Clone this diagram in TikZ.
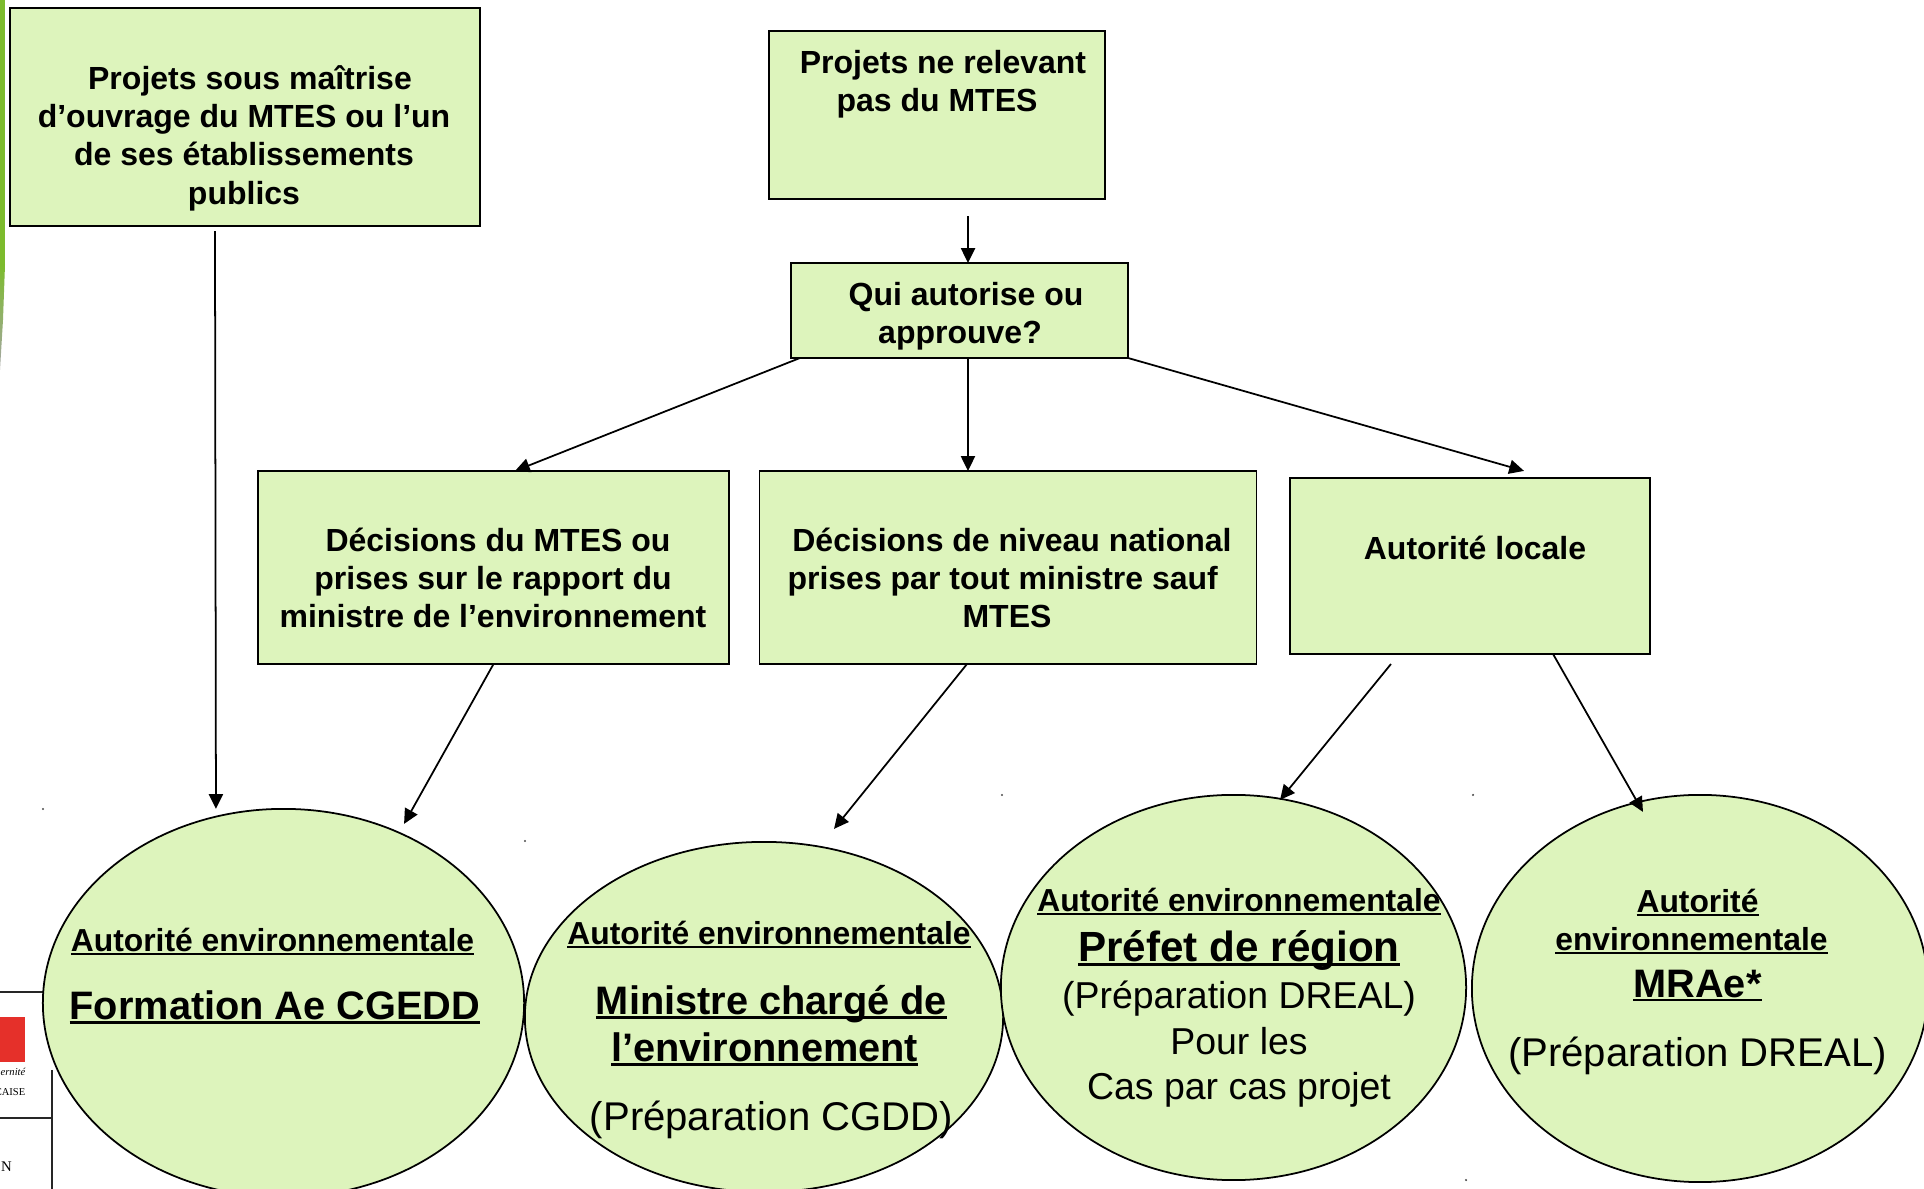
\documentclass[tikz,border=0pt]{standalone}
\usepackage{fontspec}
\setmainfont{Liberation Sans}
\newfontfamily\logofont{Liberation Serif}
\usetikzlibrary{arrows.meta,shapes.geometric}
\definecolor{boxgreen}{RGB}{221,244,188}
\definecolor{bargreen}{RGB}{124,187,45}
\definecolor{logored}{RGB}{229,48,42}
\newcommand{\ulbox}[1]{\setbox0\hbox{#1}\rlap{\rule[-0.11em]{\wd0}{0.07em}}\box0}
\newcommand{\fsB}{\fontsize{9.1}{10.9}\selectfont\bfseries}
\newcommand{\fsA}{\fontsize{9.05}{10.8}\selectfont\bfseries}
\newcommand{\fsT}{\fontsize{11.3}{10.8}\selectfont\bfseries}
\newcommand{\fsP}{\fontsize{12}{10.8}\selectfont\bfseries}
\newcommand{\fsR}{\fontsize{11.4}{10.8}\selectfont\mdseries}
\newcommand{\fsQ}{\fontsize{10.65}{10.8}\selectfont\mdseries}
\newcommand{\gap}[1]{\\[\dimexpr #1cm*1/100-10.8pt\relax]}
\tikzset{
  boxn/.style={draw=black,line width=0.5pt,fill=boxgreen,rectangle,inner sep=0pt,outer sep=0pt},
  elln/.style={draw=black,line width=0.5pt,fill=boxgreen,ellipse,inner sep=0pt,outer sep=0pt},
  boxt/.style={align=center,inner sep=0pt,font=\fsB},
  ellt/.style={align=center,inner sep=0pt},
  arr/.style={draw=black,line width=0.5pt,-{Triangle[length=4.2pt,width=4pt]}},
  logoline/.style={draw=black!85,line width=0.35pt},
  speck/.style={fill=black!70,circle,inner sep=0pt,minimum size=0.7pt}
}
\begin{document}
\begin{tikzpicture}[x=0.01cm,y=-0.01cm]
\useasboundingbox (0,0) rectangle (1924,1189);
\clip (0,0) rectangle (1924,1189);
% left accent bar
\fill[bargreen] (0,0) -- (5,0) -- (5,265) -- (0,265) -- cycle;
\shade[top color=bargreen,bottom color=black!35] (0,265) -- (5,265) -- (3,320) -- (0,370) -- cycle;
% fragment of a logo at the lower left
\draw[logoline] (0,992) -- (60,992);
\draw[logoline] (0,1118) -- (52,1118);
\draw[logoline] (52,1070) -- (52,1189);
\fill[logored] (0,1017) rectangle (25,1062);
\node[anchor=base east,inner sep=0pt,font=\logofont\itshape\fontsize{3.0}{3}\selectfont] (lg1) at (26,1076) {ernité};
\node[anchor=base east,inner sep=0pt,font=\logofont\fontsize{3.0}{3}\selectfont] (lg2) at (26,1095) {CAISE};
\node[anchor=base west,inner sep=0pt,font=\logofont\fontsize{4.2}{5}\selectfont] (lg3) at (0.5,1172) {N};
% specks
\node[speck] (s1) at (43,809) {};
\node[speck] (s2) at (525,841) {};
\node[speck] (s3) at (1002,795) {};
\node[speck] (s4) at (1473,795) {};
\node[speck] (s5) at (1466,1180) {};
% boxes
\node[boxn,minimum width=4.70cm,minimum height=2.18cm] (b1) at (245,117) {};
\node[boxn,minimum width=3.36cm,minimum height=1.68cm] (b2) at (937,115) {};
\node[boxn,minimum width=3.37cm,minimum height=0.95cm] (b3) at (959.5,310.5) {};
\node[boxn,minimum width=4.71cm,minimum height=1.93cm] (b4) at (493.5,567.5) {};
\node[boxn,minimum width=4.965cm,minimum height=1.93cm] (b5) at (1008,567.5) {};
\node[boxn,minimum width=3.60cm,minimum height=1.76cm] (b6) at (1470,566) {};
% ellipses
\node[elln,minimum width=4.81cm,minimum height=3.88cm] (e1) at (283.5,1003) {};
\node[elln,minimum width=4.78cm,minimum height=3.50cm] (e2) at (764,1017) {};
\node[elln,minimum width=4.65cm,minimum height=3.85cm] (e3) at (1233.5,987.5) {};
\node[elln,minimum width=4.56cm,minimum height=3.87cm] (e4) at (1700,988.5) {};
% box texts
\node[boxt] (t1) at (244,138) {\hspace*{0.12cm}Projets sous maîtrise\\d’ouvrage du MTES ou l’un\\de ses établissements\\publics};
\node[boxt] (t2) at (937,84) {\hspace*{0.12cm}Projets ne relevant\\pas du MTES};
\node[boxt] (t3) at (960,316) {\hspace*{0.12cm}Qui autorise ou\\approuve?};
\node[boxt] (t4) at (493,578) {\hspace*{0.1cm}Décisions du MTES ou\\prises sur le rapport du\\ministre de l’environnement};
\node[boxt] (t5) at (1007,578) {\hspace*{0.1cm}Décisions de niveau national\\prises par tout ministre sauf\kern0.086cm\\MTES};
\node[boxt] (t6) at (1475,548) {Autorité locale};
% ellipse texts
\node[ellt] (t7) at (275,976) {\fsA\ulbox{Autorité environnementale}\kern.05cm\gap{64}\fsT\ulbox{Formation Ae CGEDD}};
\node[ellt] (t8) at (769,1030) {\fsA\ulbox{Autorité environnementale}\gap{66}\fsT\hspace*{.05cm}\ulbox{Ministre chargé de}\gap{42}\fsT\ulbox{l’environnement}\kern.086cm\gap{65}\fsR\hspace*{.05cm}(Préparation CGDD)};
\node[ellt] (t9) at (1239,998) {\fsA\ulbox{Autorité environnementale}\gap{45}\fsP\ulbox{Préfet de région}\gap{43}\fsQ(Préparation DREAL)\gap{42}\fsQ Pour les\gap{41}\fsQ Cas par cas projet};
\node[ellt] (t10) at (1697.5,982) {\fsA\ulbox{Autorité}\gap{34}\fsA\ulbox{environnementale}\kern.12cm\gap{42}\fsT\ulbox{MRAe*}\gap{65}\fsR(Préparation DREAL)};
% connectors
\draw[arr] ([xshift=-.30cm,yshift=-.05cm]b1.south) -- ([xshift=-.675cm]e1.north);
\draw[arr] ([xshift=.31cm,yshift=-.17cm]b2.south) -- ([xshift=.085cm]b3.north);
\draw[arr] ([xshift=-1.595cm]b3.south) -- ([xshift=.215cm]b4.north);
\draw[arr] ([xshift=.085cm]b3.south) -- ([xshift=-.40cm]b5.north);
\draw[arr] (b3.south east) -- ([xshift=.54cm,yshift=.07cm]b6.north);
\draw[arr] (b4.south) -- ([xshift=1.205cm,yshift=-.15cm]e1.north);
\draw[arr] ([xshift=-.41cm]b5.south) -- ([xshift=.70cm,yshift=.13cm]e2.north);
\draw[arr] ([xshift=-.79cm,yshift=-.10cm]b6.south) -- ([xshift=.465cm,yshift=-.05cm]e3.north);
\draw[arr] ([xshift=.83cm]b6.south) -- ([xshift=-.57cm,yshift=-.17cm]e4.north);
\end{tikzpicture}
\end{document}
